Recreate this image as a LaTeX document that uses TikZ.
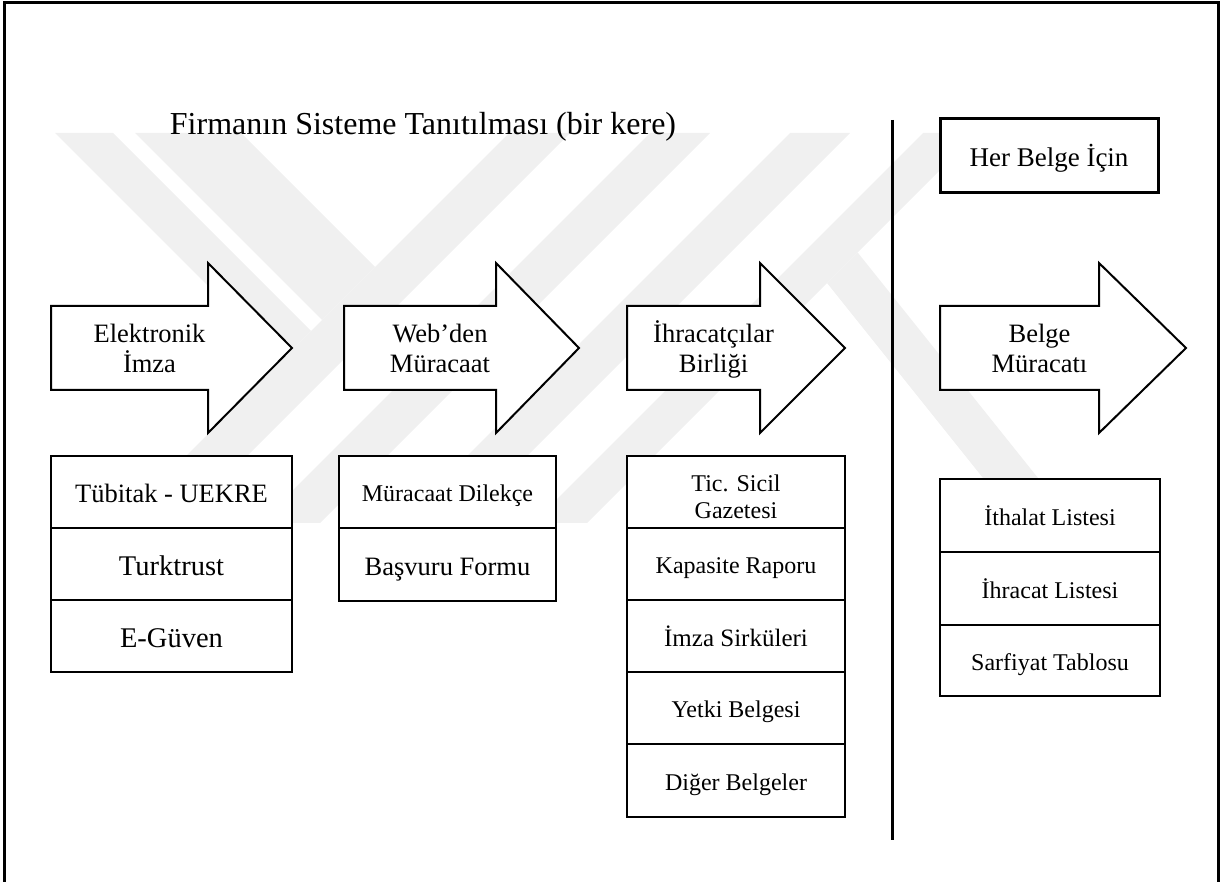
\documentclass[tikz,border=0pt]{standalone}
\usepackage{fontspec}
\setmainfont{Liberation Serif}
\definecolor{wmgray}{gray}{0.94}
\tikzset{
  frameline/.style={line width=3pt},
  blockarrow/.style={draw, line width=2pt, fill=white, line join=miter},
  cell/.style={draw, line width=2.6pt, fill=white, inner sep=0pt, text depth=0pt, align=center},
  lbl/.style={anchor=base, inner sep=0pt},
  wm/.style={fill=wmgray},
  fA/.style={font=\fontsize{26.5}{30}\selectfont, text height=21.2pt},
  fB/.style={font=\fontsize{28.5}{32}\selectfont, text height=22.8pt},
  fC/.style={font=\fontsize{24}{27}\selectfont, text height=19.2pt},
  fD/.style={font=\fontsize{25}{28}\selectfont, text height=20pt},
  fH/.style={font=\fontsize{27}{30}\selectfont, text height=21.6pt},
  fT/.style={font=\fontsize{32}{36}\selectfont},
}
\begin{document}
\begin{tikzpicture}[x=1pt,y=-1pt]
\useasboundingbox (0,0) rectangle (1224,882);

% faint striped emblem in the background
\begin{scope}
  \clip (0,133) rectangle (1224,522);
  \fill[wm] (55,133) -- (113,133) -- (311,331) -- (282,360) -- cycle;
  \fill[wm] (135,133) -- (241,133) -- (375,267) -- (322,320) -- cycle;
  \fill[wm] (509,133) -- (570,133) -- (170,533) -- (109,533) -- cycle;
  \fill[wm] (650,133) -- (710,133) -- (310,533) -- (250,533) -- cycle;
  \fill[wm] (790,133) -- (850,133) -- (450,533) -- (390,533) -- cycle;
  \fill[wm] (923,133) -- (977,133) -- (577,533) -- (523,533) -- cycle;
  \fill[wm] (827,283) -- (857.6,252.4) -- (1082,533) -- (1027,533) -- cycle;
\end{scope}

% outer frame (open at the bottom)
\coordinate (fbl) at (4,882);
\coordinate (ftl) at (4,3);
\coordinate (ftr) at (1218,3);
\coordinate (fbr) at (1218,882);
\draw[frameline] (fbl) -- (ftl) -- (ftr) -- (fbr);

% title
\node[lbl, fT] (title) at (423,135) {Firmanın Sisteme Tanıtılması (bir kere)};

% divider between one-time and per-document steps
\coordinate (dtop) at (892.5,120);
\coordinate (dbot) at (892.5,840);
\draw[line width=2.2pt] (dtop) -- (dbot);

% per-document header box
\node[cell, line width=3pt, minimum width=218pt, minimum height=74pt, fH] (her) at (1049,156) {Her Belge İçin};

% block arrows: shaft from L to B, head from B to tip T
\foreach \L/\B/\T in {51/208/292, 344/496/579, 627/760/845, 940/1099/1186}{
  \draw[blockarrow] (\L,306) -- (\B,306) -- (\B,263) -- (\T,348)
    -- (\B,433) -- (\B,390) -- (\L,390) -- cycle;
}

% arrow labels
\node[lbl, fA] (a1a) at (149.5,342.5) {Elektronik};
\node[lbl, fA] (a1b) at (149.5,373) {İmza};
\node[lbl, fA] (a2a) at (440,342.5) {Web’den};
\node[lbl, fA] (a2b) at (440,373) {Müracaat};
\node[lbl, fA] (a3a) at (713.5,342.5) {İhracatçılar};
\node[lbl, fA] (a3b) at (713.5,373) {Birliği};
\node[lbl, fA] (a4a) at (1039.5,342.5) {Belge};
\node[lbl, fA] (a4b) at (1039.5,373) {Müracatı};

% column 1: e-signature providers
\node[cell, minimum width=241pt, minimum height=72pt, fA] (c11) at (171.5,492) {Tübitak - UEKRE};
\node[cell, minimum width=241pt, minimum height=72pt, fB] (c12) at (171.5,564) {Turktrust};
\node[cell, minimum width=241pt, minimum height=72pt, fB] (c13) at (171.5,636) {E-Güven};

% column 2: web application documents
\node[cell, minimum width=217pt, minimum height=72pt, fC] (c21) at (447.5,492) {Müracaat Dilekçe};
\node[cell, minimum width=217pt, minimum height=73pt, fA] (c22) at (447.5,564.5) {Başvuru Formu};

% column 3: exporters' association documents
\node[cell, minimum width=218pt, minimum height=72pt] (c31) at (736,492) {};
\node[lbl, fC] (c31a) at (736,491) {Tic. Sicil};
\node[lbl, fC] (c31b) at (736,518) {Gazetesi};
\node[cell, minimum width=218pt, minimum height=72pt, fC] (c32) at (736,564) {Kapasite Raporu};
\node[cell, minimum width=218pt, minimum height=72pt, fD] (c33) at (736,636) {İmza Sirküleri};
\node[cell, minimum width=218pt, minimum height=72pt, fC] (c34) at (736,708) {Yetki Belgesi};
\node[cell, minimum width=218pt, minimum height=73pt, fC] (c35) at (736,780.5) {Diğer Belgeler};

% column 4: per-document lists
\node[cell, minimum width=220pt, minimum height=73pt, fC] (c41) at (1050,515.5) {İthalat Listesi};
\node[cell, minimum width=220pt, minimum height=73pt, fC] (c42) at (1050,588.5) {İhracat Listesi};
\node[cell, minimum width=220pt, minimum height=71pt, fC] (c43) at (1050,660.5) {Sarfiyat Tablosu};
\end{tikzpicture}
\end{document}
